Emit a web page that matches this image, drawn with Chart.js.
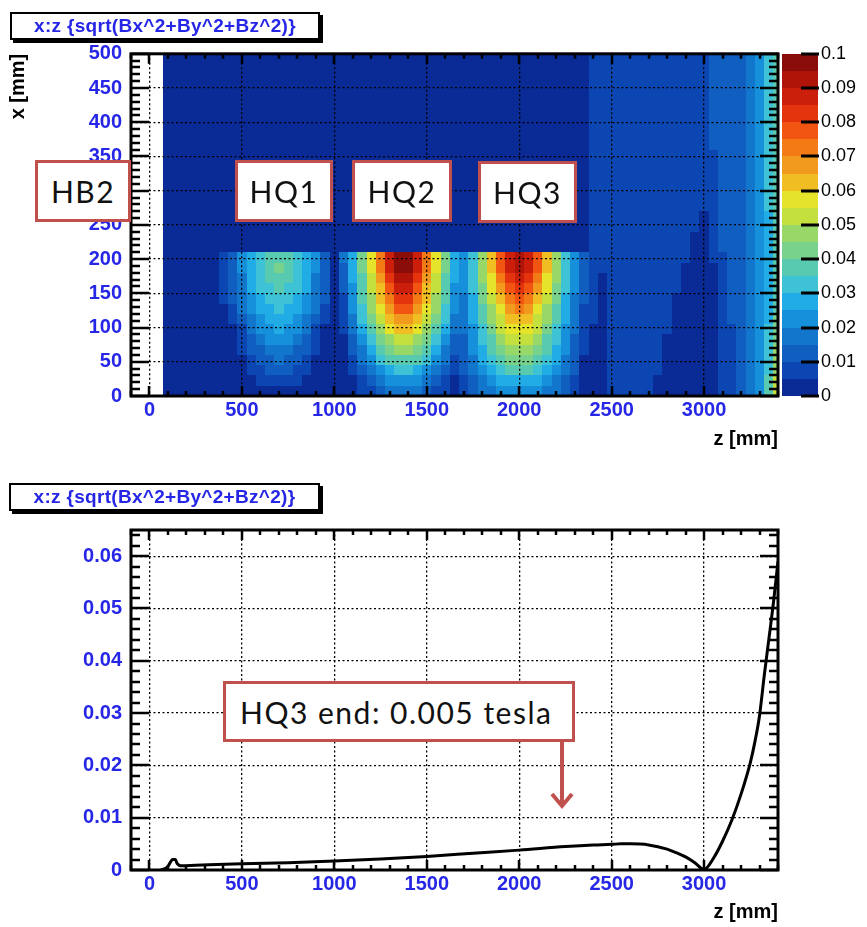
<!DOCTYPE html>
<html>
<head>
<meta charset="utf-8">
<title>|B| map along z</title>
<script src="https://cdn.jsdelivr.net/npm/chart.js@4.4.1/dist/chart.umd.min.js"></script>
<style>
  html, body { margin: 0; background: #fff; }
  #page { position: relative; width: 867px; height: 927px; overflow: hidden; }
  #page canvas { position: absolute; left: 0; }
  .hist-title {
    position: absolute; box-sizing: border-box; height: 28px;
    border: 2px solid #000; box-shadow: 3px 3px 0 #000; background: #fff;
    color: #2626e6; font: bold 19px "Liberation Sans", Arial, sans-serif; letter-spacing: 0.3px;
    text-align: center; line-height: 24px; white-space: nowrap;
  }
  .callout {
    position: absolute; box-sizing: border-box; height: 62px;
    border: 3px solid #c0504d; background: #fff; color: #111;
    font: 30px Lato, "Open Sans", sans-serif; letter-spacing: 1.5px;
    display: flex; align-items: center; justify-content: center; white-space: nowrap;
  }
</style>
</head>
<body>
<div id="page">
  <canvas id="mapChart" width="867" height="460" style="top:0"></canvas>
  <canvas id="lineChart" width="867" height="467" style="top:460px"></canvas>

  <div class="hist-title" style="left:10px; top:12px; width:310px">x:z {sqrt(Bx^2+By^2+Bz^2)}</div>
  <div class="hist-title" style="left:9px; top:483px; width:311px">x:z {sqrt(Bx^2+By^2+Bz^2)}</div>

  <div class="callout" style="left:35px; top:160px; width:96px">HB2</div>
  <div class="callout" style="left:235px; top:160px; width:98px">HQ1</div>
  <div class="callout" style="left:352px; top:160px; width:100px">HQ2</div>
  <div class="callout" style="left:478px; top:161px; width:99px">HQ3</div>

  <svg style="position:absolute; left:0; top:0; pointer-events:none" width="867" height="927">
    <line x1="562" y1="740" x2="562" y2="806" stroke="#c0504d" stroke-width="4"/>
    <polyline points="552,794 562,806 572,794" fill="none" stroke="#c0504d" stroke-width="4"/>
  </svg>
  <div class="callout" style="left:223px; top:681px; width:352px; height:61px; justify-content:flex-start; padding-left:14px">HQ3 end: 0.005 tesla</div>
</div>

<script>
// ---- field map |B| in the x-z plane ----
// z bins: 50 mm wide starting at 75 mm; x bins listed as edges
const Z_BIN_START = 75;
const Z_BIN_WIDTH = 50;
const X_BIN_EDGES = [0, 15, 30, 45, 60, 75, 90, 105, 120, 135, 150, 165, 180, 195, 210,
                     240, 270, 300, 330, 360, 390, 420, 450, 480, 500];
const LEVEL_STEP = 0.005; // tesla per contour level

// contour level of each bin, one string per x row (lowest x first);
// characters 0-9,a-j = levels 0..19, groups are only for readability
const FIELD_LEVELS = [
  '000000 0000000000000 001123333211 012334444433210 00111110000000112347a',
  '000000 0000111110000 001234444321 012345555543210 00111110000000112347a',
  '000000 0001122211000 012345665432 123456777654320 001111110000001123469',
  '000000 0001223221000 013467777643 123567888765320 001111110000001123469',
  '000000 0012233322100 023578998753 224578999875421 001111110000001123469',
  '000000 0012344432100 024689aa9864 224679aaa976421 001111110000001123468',
  '000000 0013445443100 13579bccb975 33468abbba86431 001111111000001123468',
  '000000 0123455543210 1368acddca86 33579accca97531 101111111000001223458',
  '000000 0134556554310 1469bdffdb96 43579bdedb97531 101111111000001223457',
  '000000 1234566654320 1479ceggec97 4358acefeca8532 101111111000001223457',
  '000000 1235667665320 247acfhhfca7 4468bdfgfdb8642 101111111100001223457',
  '000000 1235677765320 257adgiigda7 5469beghgeb9642 101111111100001223457',
  '000000 1245678765420 258behjjheb8 5469cfhihfc9642 111111111100001223457',
  '000000 1245677765420 358behjjheb8 5469cfhihfc9642 111111111110011223457',
  '000000 0000000000000 000000000000 000000000000000 111111111110012223457',
  '000000 0000000000000 000000000000 000000000000000 111111111111012223457',
  '000000 0000000000000 000000000000 000000000000000 111111111111112223467',
  '000000 0000000000000 000000000000 000000000000000 111111111111112223467',
  '000000 0000000000000 000000000000 000000000000000 111111111111112223467',
  '000000 0000000000000 000000000000 000000000000000 111111111111122223467',
  '000000 0000000000000 000000000000 000000000000000 111111111111122223467',
  '000000 0000000000000 000000000000 000000000000000 111111111111122223467',
  '000000 0000000000000 000000000000 000000000000000 111111111111122223467',
  '000000 0000000000000 000000000000 000000000000000 111111111111122223467',
];

// palette, one colour per contour level (0 .. 0.1 T)
const PALETTE = [
  '#0a2a96', '#0c46b2', '#105fc0', '#1276cc', '#1790dc',
  '#22ace6', '#3ec2d6', '#58cab0', '#78d28c', '#98d868',
  '#c4e03f', '#e6e32b', '#f0bd23', '#f29a1d', '#f47a16',
  '#f25512', '#e4340e', '#cc1f0b', '#b01409', '#8b0d0a',
];

// ---- |B| along z on the axis ----
const Z_LINE = [60, 80, 100, 115, 125, 140, 150, 170, 250, 500, 750, 1000, 1250, 1500,
                1750, 2000, 2250, 2400, 2500, 2550, 2600, 2700, 2800, 2850, 2900, 2950,
                3000, 3050, 3100, 3150, 3200, 3250, 3275, 3300, 3325, 3350, 3375, 3400];
const B_LINE = [0, 0.0002, 0.0007, 0.0016, 0.002, 0.002, 0.0012, 0.0008, 0.0009, 0.0012,
                0.0014, 0.0017, 0.0021, 0.0026, 0.0032, 0.0038, 0.0045, 0.0048, 0.0049,
                0.005, 0.005, 0.0048, 0.004, 0.0033, 0.0025, 0.0014, 0.0001, 0.0022,
                0.0055, 0.0095, 0.0145, 0.0205, 0.0245, 0.0295, 0.037, 0.044, 0.051, 0.059];

// axis ticks
const Z_TICKS = [0, 500, 1000, 1500, 2000, 2500, 3000];
const X_TICKS = [0, 50, 100, 150, 200, 250, 300, 350, 400, 450, 500];
const B_TICKS = [0, 0.01, 0.02, 0.03, 0.04, 0.05, 0.06];
const CB_TICKS = [0, 0.01, 0.02, 0.03, 0.04, 0.05, 0.06, 0.07, 0.08, 0.09, 0.1];

const LABEL_BLUE = '#2626e6';
const tickFont = { family: '"Liberation Sans", Arial, sans-serif', size: 20, weight: 'bold' };
const titleFont = { family: '"Liberation Sans", Arial, sans-serif', size: 20, weight: 'bold' };
const dottedGrid = { color: '#000', lineWidth: 1.3, drawTicks: false };
const dottedBorder = { display: false, dash: [2, 2.5] };

const fixTicks = (list) => (scale) => { scale.ticks = list.map((v) => ({ value: v })); };
const fmtDec = (v) => (v === 0 ? '0' : String(+v.toFixed(2)));
const fmtInt = (v) => String(v);

// one bin per cell: centre for the scales, edges for drawing
const fieldCells = [];
FIELD_LEVELS.forEach((row, r) => {
  const levels = row.replace(/ /g, '');
  for (let c = 0; c < levels.length; c++) {
    const z0 = Z_BIN_START + c * Z_BIN_WIDTH;
    fieldCells.push({
      x: z0 + Z_BIN_WIDTH / 2,
      y: (X_BIN_EDGES[r] + X_BIN_EDGES[r + 1]) / 2,
      z0, z1: z0 + Z_BIN_WIDTH,
      x0: X_BIN_EDGES[r], x1: X_BIN_EDGES[r + 1],
      v: (parseInt(levels[c], 36) + 0.5) * LEVEL_STEP,
    });
  }
});

// colour bins, painted before the grid so the dotted lines sit on top
const fieldMap = {
  id: 'fieldMap',
  beforeDraw(chart) {
    const { ctx, chartArea: a, scales: { x, y } } = chart;
    ctx.save();
    ctx.beginPath();
    ctx.rect(a.left, a.top, a.width, a.height);
    ctx.clip();
    for (const c of chart.data.datasets[0].data) {
      const l = Math.round(x.getPixelForValue(c.z0));
      const r = Math.round(x.getPixelForValue(c.z1));
      const t = Math.round(y.getPixelForValue(c.x1));
      const b = Math.round(y.getPixelForValue(c.x0));
      ctx.fillStyle = PALETTE[Math.min(PALETTE.length - 1, Math.floor(c.v / LEVEL_STEP))];
      ctx.fillRect(l, t, r - l, b - t);
    }
    ctx.restore();
  },
};

// palette axis to the right of the frame
const colorBar = {
  id: 'colorBar',
  afterDraw(chart) {
    const { ctx, chartArea: a, scales: { cb } } = chart;
    const left = a.right + 4, w = 36;
    ctx.save();
    PALETTE.forEach((col, k) => {
      const t = Math.round(cb.getPixelForValue((k + 1) * LEVEL_STEP));
      const b = Math.round(cb.getPixelForValue(k * LEVEL_STEP));
      ctx.fillStyle = col;
      ctx.fillRect(left, t, w, b - t);
    });
    ctx.strokeStyle = '#000';
    ctx.lineWidth = 3;
    ctx.beginPath();
    for (const v of CB_TICKS) {
      const py = Math.round(cb.getPixelForValue(v));
      ctx.moveTo(left + w + 1, py);
      ctx.lineTo(left + w - 17, py);
    }
    ctx.stroke();
    ctx.restore();
  },
};

// thick frame with inward major/minor ticks on all four sides
const rootFrame = {
  id: 'rootFrame',
  afterDraw(chart, args, o) {
    const { ctx, chartArea: a, scales: { x, y } } = chart;
    ctx.save();
    ctx.strokeStyle = '#000';
    ctx.lineWidth = 2.5;
    ctx.beginPath();
    for (let i = Math.ceil(x.min / o.zMinor); i * o.zMinor <= x.max; i++) {
      const px = Math.round(x.getPixelForValue(i * o.zMinor));
      const len = i % 5 === 0 ? 10 : 5;
      ctx.moveTo(px, a.bottom); ctx.lineTo(px, a.bottom - len);
      ctx.moveTo(px, a.top); ctx.lineTo(px, a.top + len);
    }
    for (let i = 0; i * o.yMinor <= y.max + 1e-9; i++) {
      const py = Math.round(y.getPixelForValue(i * o.yMinor));
      const len = i % 5 === 0 ? 18 : 9;
      ctx.moveTo(a.left, py); ctx.lineTo(a.left + len, py);
      ctx.moveTo(a.right, py); ctx.lineTo(a.right - len, py);
    }
    ctx.stroke();
    ctx.lineWidth = 3;
    ctx.strokeRect(a.left, a.top, a.width, a.height);
    ctx.restore();
  },
};

const zAxis = (height, titlePad) => ({
  type: 'linear', min: -100, max: 3400, bounds: 'data',
  afterFit: (s) => { s.height = height; },
  afterBuildTicks: fixTicks(Z_TICKS),
  grid: dottedGrid, border: dottedBorder,
  ticks: { color: LABEL_BLUE, font: tickFont, padding: 2, maxRotation: 0, autoSkip: false, callback: fmtInt },
  title: { display: true, text: 'z [mm]', align: 'end', color: '#000', font: titleFont,
           padding: { top: 0, bottom: titlePad } },
});

new Chart(document.getElementById('mapChart'), {
  type: 'scatter',
  data: {
    datasets: [{ label: 'sqrt(Bx^2+By^2+Bz^2)', data: fieldCells, pointRadius: 0, pointHoverRadius: 0 }],
  },
  options: {
    responsive: false, animation: false, events: [],
    layout: { padding: { top: 53, left: 0, right: 0, bottom: 0 } },
    plugins: { legend: { display: false }, tooltip: { enabled: false },
               rootFrame: { zMinor: 100, yMinor: 10 } },
    scales: {
      x: zAxis(64, 9),
      y: {
        type: 'linear', min: 0, max: 500, bounds: 'data',
        afterFit: (s) => { s.width = 131; },
        afterBuildTicks: fixTicks(X_TICKS),
        grid: dottedGrid, border: dottedBorder,
        ticks: { color: LABEL_BLUE, font: tickFont, padding: 9, callback: fmtInt },
        title: { display: true, text: 'x [mm]', align: 'end', color: '#000', font: titleFont,
                 padding: { top: 6, bottom: 0 } },
      },
      cb: {
        type: 'linear', axis: 'y', position: 'right', min: 0, max: 0.1, bounds: 'data',
        afterFit: (s) => { s.width = 89; },
        afterBuildTicks: fixTicks(CB_TICKS),
        grid: { display: false, drawTicks: false }, border: { display: false },
        ticks: { color: '#000', padding: 43, callback: fmtDec,
                 font: { family: '"Liberation Sans", Arial, sans-serif', size: 18 } },
      },
    },
  },
  plugins: [fieldMap, colorBar, rootFrame],
});

new Chart(document.getElementById('lineChart'), {
  type: 'line',
  data: {
    datasets: [{
      label: '|B| on axis',
      data: Z_LINE.map((z, i) => ({ x: z, y: B_LINE[i] })),
      borderColor: '#000', borderWidth: 3, pointRadius: 0,
      cubicInterpolationMode: 'monotone', fill: false,
    }],
  },
  options: {
    responsive: false, animation: false, events: [],
    layout: { padding: { top: 70, left: 0, right: 89, bottom: 0 } },
    plugins: { legend: { display: false }, tooltip: { enabled: false },
               rootFrame: { zMinor: 100, yMinor: 0.002 } },
    scales: {
      x: zAxis(57, 3),
      y: {
        type: 'linear', min: 0, max: 0.065, bounds: 'data',
        afterFit: (s) => { s.width = 131; },
        afterBuildTicks: fixTicks(B_TICKS),
        grid: dottedGrid, border: dottedBorder,
        ticks: { color: LABEL_BLUE, font: tickFont, padding: 9, callback: fmtDec },
      },
    },
  },
  plugins: [rootFrame],
});
</script>
</body>
</html>
